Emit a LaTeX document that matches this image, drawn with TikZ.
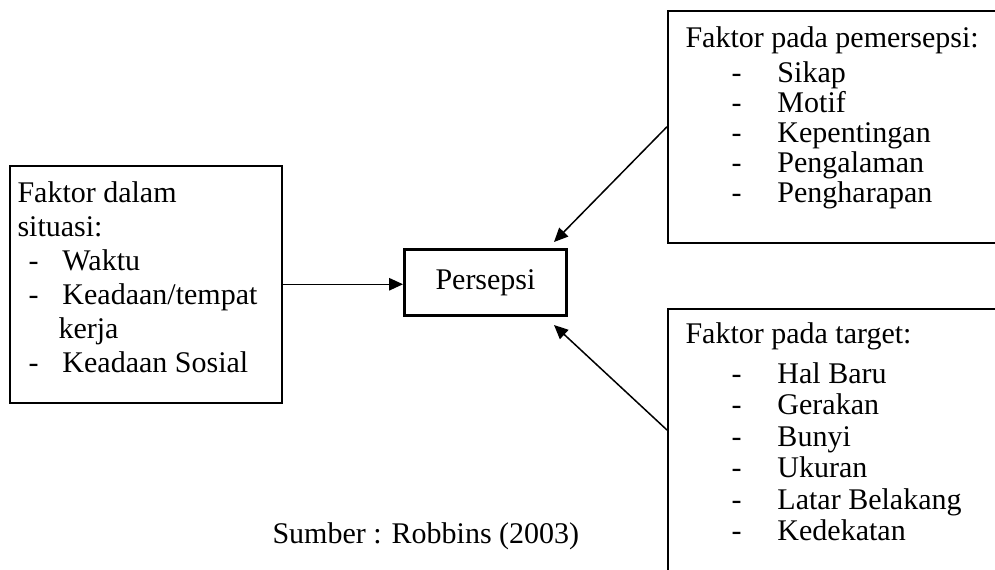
\documentclass[tikz,border=0pt]{standalone}
\usepackage{fontspec}
\setmainfont{Liberation Serif}
\usetikzlibrary{
	arrows.meta,
	positioning,
	calc
}

\newcommand{\butir}[1]{\hspace*{18.4pt}\makebox[18.4pt][l]{-}#1}
\newcommand{\butirkiri}[1]{\hspace*{4.4pt}\makebox[13.6pt][l]{-}#1}

\begin{document}
\begin{tikzpicture}[x=0.4pt,y=-0.4pt,
		kotak/.style={draw,line width=0.6pt,rectangle,inner sep=0pt,anchor=north west},
		isi/.style={anchor=base west,inner sep=0pt,font=\fontsize{12}{12}\selectfont},
		panah/.style={-{Triangle[length=5.6pt,width=5pt]},line width=0.6pt}]
				
				\path[use as bounding box,clip] (0,0) rectangle (995,569);
				
				% Faktor dalam situasi
				\node[kotak,minimum width=108.8pt,minimum height=94.8pt] (situasi) at (9,165) {};
				\node[isi,font=\fontsize{12}{13.6}\selectfont] (teksSituasi) at (17,202) {\begin{tabular}[t]{@{}l@{}}
						Faktor dalam\\
						situasi:\\
						\butirkiri{Waktu}\\
						\butirkiri{Keadaan/tempat}\\
						\hspace*{16.4pt}kerja\\
						\butirkiri{Keadaan Sosial}
					\end{tabular}};
				
				% Persepsi
				\node[kotak,line width=1.2pt,minimum width=64.8pt,minimum height=26.4pt,
					font=\fontsize{12}{12}\selectfont] (persepsi) at (403,248) {Persepsi};
				
				% Faktor pada pemersepsi
				\node[kotak,minimum width=136pt,minimum height=92.8pt] (pemersepsi) at (667,10) {};
				\node[isi] (teksPemersepsi) at (685,47) {\begin{tabular}[t]{@{}l@{}}
						Faktor pada pemersepsi:\\[2pt]
						\butir{Sikap}\\
						\butir{Motif}\\
						\butir{Kepentingan}\\
						\butir{Pengalaman}\\
						\butir{Pengharapan}
					\end{tabular}};
				
				% Faktor pada target
				\node[kotak,minimum width=136pt,minimum height=120pt] (target) at (667,308) {};
				\node[isi,font=\fontsize{12}{12.6}\selectfont] (teksTarget) at (685,343) {\begin{tabular}[t]{@{}l@{}}
						Faktor pada target:\\[3.4pt]
						\butir{Hal Baru}\\
						\butir{Gerakan}\\
						\butir{Bunyi}\\
						\butir{Ukuran}\\
						\butir{Latar Belakang}\\
						\butir{Kedekatan}
					\end{tabular}};
				
				\draw[panah] (situasi.east) -- (situasi.east -| persepsi.west);
				\draw[panah] (pemersepsi.west) -- ([shift={(-14,-6)}]persepsi.north east);
				\draw[panah] ($(target.north west)+(0,122)$) -- ([shift={(-14,8)}]persepsi.south east);
				
				\node[isi] (sumber) at (272,543) {Sumber : Robbins (2003)};
				
			\end{tikzpicture}
\end{document}
